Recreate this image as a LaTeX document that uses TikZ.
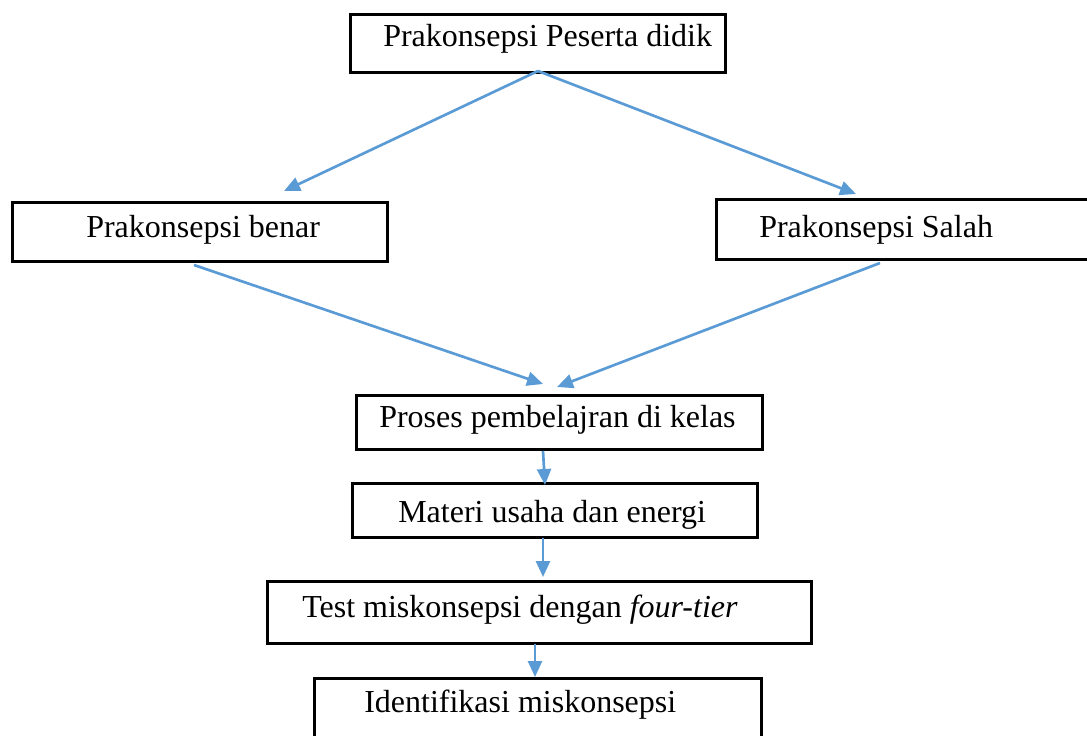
\documentclass[tikz,border=0pt]{standalone}
\usepackage{fontspec}
\setmainfont{Liberation Serif}
\usetikzlibrary{arrows.meta}
\definecolor{arrblue}{RGB}{91,155,213}
\tikzset{
  box/.style={draw=black, line width=2.2pt, fill=none, inner sep=0pt, anchor=north west},
  txt/.style={anchor=base west, inner sep=0pt, font=\fontsize{24}{28}\selectfont},
  conn/.style={draw=arrblue, line width=2pt, -{Triangle[length=12pt,width=10.5pt]}}
}
\begin{document}
\begin{tikzpicture}[x=0.75pt,y=-0.75pt]
\useasboundingbox (0,0) rectangle (1087,735);
\clip (0,0) rectangle (1087,735);
% boxes (north west corner, size in px)
\node[box, minimum width=375*0.75pt, minimum height=58*0.75pt] (n1) at (349,13) {};
\node[box, minimum width=375*0.75pt, minimum height=59*0.75pt] (n2) at (11,201) {};
\node[box, minimum width=400*0.75pt, minimum height=60*0.75pt] (n3) at (715,198) {};
\node[box, minimum width=406*0.75pt, minimum height=54*0.75pt] (n4) at (355,394) {};
\node[box, minimum width=405*0.75pt, minimum height=54*0.75pt] (n5) at (351,482) {};
\node[box, minimum width=544*0.75pt, minimum height=62*0.75pt] (n6) at (266,580) {};
\node[box, minimum width=447*0.75pt, minimum height=80*0.75pt] (n7) at (313,677) {};
% texts
\node[txt] (t1) at (383,47) {Prakonsepsi Peserta didik};
\node[txt] (t2) at (86,237) {Prakonsepsi benar};
\node[txt] (t3) at (759,237) {Prakonsepsi Salah};
\node[txt] (t4) at (379,427) {Proses pembelajran di kelas};
\node[txt] (t5) at (398,522) {Materi usaha dan energi};
\node[txt] (t6) at (302,617) {Test miskonsepsi dengan \textit{four-tier}};
\node[txt] (t7) at (364,712) {Identifikasi miskonsepsi};
% connector end points
\coordinate (s1) at (538,71);
\coordinate (e12) at (284,191);
\coordinate (e13) at (856,194);
\coordinate (s2) at (194,265);
\coordinate (e24) at (543,384);
\coordinate (s3) at (880,263);
\coordinate (e34) at (557,387);
\coordinate (s4) at (543,451);
\coordinate (e45) at (545,485);
\coordinate (s5) at (543,538);
\coordinate (e56) at (543,577);
\coordinate (s6) at (535,644);
\coordinate (e67) at (535,677);
\draw[conn] (s1) -- (e12);
\draw[conn] (s1) -- (e13);
\draw[conn] (s2) -- (e24);
\draw[conn] (s3) -- (e34);
\draw[conn] (s4) -- (e45);
\draw[conn] (s5) -- (e56);
\draw[conn] (s6) -- (e67);
\end{tikzpicture}
\end{document}
